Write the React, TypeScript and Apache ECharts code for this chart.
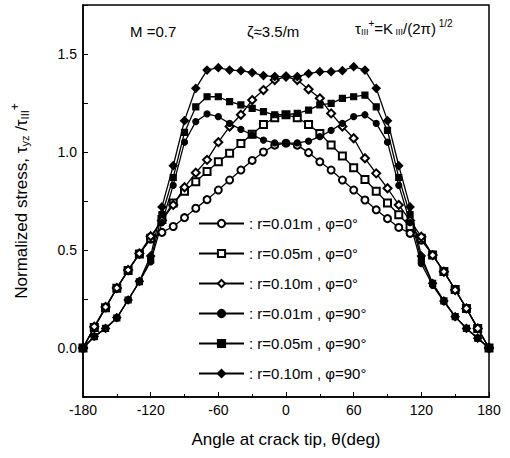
import React, { useEffect, useRef } from "react";
import * as echarts from "echarts";

const thetas = [
  -180, -170, -160, -150, -140, -130, -120, -110, -100, -90, -80, -70, -60, -50, -40, -30, -20, -10, 0,
  10, 20, 30, 40, 50, 60, 70, 80, 90, 100, 110, 120, 130, 140, 150, 160, 170, 180,
];

const openCircle = [
  0, 0.105, 0.205, 0.305, 0.395, 0.48, 0.555, 0.59, 0.62, 0.665, 0.713, 0.757, 0.806, 0.857, 0.908, 0.957, 1.0, 1.035, 1.045,
  1.035, 0.997, 0.95, 0.908, 0.857, 0.806, 0.755, 0.705, 0.66, 0.615, 0.585, 0.55, 0.475, 0.39, 0.298, 0.202, 0.1, 0,
];
const openSquare = [
  0, 0.105, 0.205, 0.305, 0.395, 0.48, 0.56, 0.655, 0.74, 0.8, 0.848, 0.9, 0.95, 0.993, 1.044, 1.09, 1.14, 1.175, 1.19,
  1.175, 1.14, 1.095, 1.036, 0.98, 0.92, 0.86, 0.8, 0.74, 0.68, 0.62, 0.56, 0.475, 0.39, 0.298, 0.202, 0.1, 0,
];
const openDiamond = [
  0, 0.109, 0.209, 0.306, 0.398, 0.482, 0.57, 0.65, 0.73, 0.82, 0.894, 0.96, 1.05, 1.13, 1.19, 1.265, 1.316, 1.367, 1.385,
  1.367, 1.32, 1.274, 1.197, 1.13, 1.07, 0.968, 0.891, 0.815, 0.73, 0.65, 0.568, 0.474, 0.389, 0.296, 0.202, 0.1, 0,
];
const filledCircle = [
  0, 0.058, 0.1, 0.153, 0.245, 0.338, 0.44, 0.64, 0.83, 1.05, 1.155, 1.194, 1.18, 1.146, 1.115, 1.087, 1.061, 1.047, 1.044,
  1.047, 1.055, 1.078, 1.11, 1.146, 1.18, 1.19, 1.146, 1.05, 0.83, 0.64, 0.43, 0.32, 0.236, 0.16, 0.1, 0.05, 0,
];
const filledSquare = [
  0, 0.058, 0.1, 0.153, 0.245, 0.338, 0.45, 0.68, 0.87, 1.1, 1.23, 1.282, 1.282, 1.257, 1.24, 1.223, 1.206, 1.19, 1.19,
  1.197, 1.214, 1.24, 1.248, 1.274, 1.282, 1.29, 1.23, 1.11, 0.87, 0.68, 0.45, 0.33, 0.24, 0.16, 0.1, 0.05, 0,
];
const filledDiamond = [
  0, 0.06, 0.1, 0.155, 0.245, 0.34, 0.47, 0.72, 0.93, 1.16, 1.325, 1.418, 1.43, 1.418, 1.415, 1.405, 1.39, 1.385, 1.385,
  1.385, 1.4, 1.41, 1.41, 1.415, 1.435, 1.418, 1.325, 1.16, 0.93, 0.72, 0.47, 0.33, 0.24, 0.16, 0.1, 0.05, 0,
];

const seriesNames = [
  ": r=0.01m , φ=0°",
  ": r=0.05m , φ=0°",
  ": r=0.10m , φ=0°",
  ": r=0.01m , φ=90°",
  ": r=0.05m , φ=90°",
  ": r=0.10m , φ=90°",
];
const seriesSymbols = ["emptyCircle", "emptyRect", "emptyDiamond", "circle", "rect", "diamond"];
const seriesValues = [openCircle, openSquare, openDiamond, filledCircle, filledSquare, filledDiamond];
const symbolSizes = [7, 7, 8, 6, 6, 8];

const FONT = "'Liberation Sans', Arial, sans-serif";

export default function App() {
  const ref = useRef<HTMLDivElement>(null);
  useEffect(() => {
    document.body.style.margin = "0";
    if (!ref.current) return;
    const chart = echarts.init(ref.current, null, { renderer: "svg" });
    const series = seriesNames.map((name, i) => ({
      name,
      type: "line",
      data: thetas.map((t, j) => [t, seriesValues[i][j]]),
      symbol: seriesSymbols[i],
      symbolSize: symbolSizes[i],
      showSymbol: true,
      lineStyle: { color: "#000", width: 1.3 },
      itemStyle: { color: "#000", borderColor: "#000", borderWidth: 1.2 },
      emphasis: { disabled: true },
    }));
    chart.setOption({
      animation: false,
      backgroundColor: "#fff",
      textStyle: { fontFamily: FONT },
      grid: { left: 83, right: 21, top: 5, bottom: 61, show: true, borderColor: "#000", borderWidth: 1.5 },
      xAxis: {
        type: "value",
        min: -180,
        max: 180,
        interval: 60,
        name: "Angle at crack tip, θ(deg)",
        nameLocation: "middle",
        nameGap: 34,
        nameTextStyle: { fontSize: 17, color: "#000", fontFamily: FONT },
        axisLine: { show: true, onZero: false, lineStyle: { color: "#000", width: 1.5 } },
        axisTick: { show: true, inside: true, length: 5, lineStyle: { color: "#000" } },
        minorTick: { show: true, splitNumber: 2, length: 3, lineStyle: { color: "#000" } },
        splitLine: { show: false },
        axisLabel: { fontSize: 14, color: "#000", margin: 6, fontFamily: FONT },
      },
      yAxis: {
        type: "value",
        min: -0.25,
        max: 1.75,
        interval: 0.25,
        name: "Normalized stress, τ{sub|yz} /τ{sub|III}{sup|+}",
        nameLocation: "middle",
        nameGap: 50,
        nameRotate: 90,
        nameTextStyle: {
          fontSize: 17,
          color: "#000",
          fontFamily: FONT,
          rich: {
            sub: { fontSize: 11, padding: [7, 0, 0, 0], color: "#000", fontFamily: FONT },
            sup: { fontSize: 12, padding: [0, 0, 12, 0], color: "#000", fontFamily: FONT },
          },
        },
        axisLine: { show: true, onZero: false, lineStyle: { color: "#000", width: 1.5 } },
        axisTick: { show: true, inside: true, length: 5, lineStyle: { color: "#000" } },
        splitLine: { show: false },
        axisLabel: {
          fontSize: 14,
          color: "#000",
          margin: 6,
          fontFamily: FONT,
          formatter: (v: number) => {
            const d = v * 2;
            if (v >= 0 && v <= 1.5 && Math.abs(d - Math.round(d)) < 1e-6) return v.toFixed(1);
            return "";
          },
        },
      },
      legend: {
        orient: "vertical",
        left: 193,
        top: 211,
        itemWidth: 45,
        itemHeight: 9,
        itemGap: 15,
        selectedMode: false,
        data: seriesNames,
        textStyle: { fontSize: 15, color: "#000", fontFamily: FONT },
      },
      graphic: [
        {
          type: "text",
          left: 130,
          top: 24,
          style: { text: "M =0.7", font: `15px ${FONT}`, fill: "#000" },
        },
        {
          type: "text",
          left: 247,
          top: 24,
          style: { text: "ζ≈3.5/m", font: `15px ${FONT}`, fill: "#000" },
        },
        {
          type: "text",
          left: 355,
          top: 18,
          style: {
            text: "τ{sub|III}{sup|+}=K{sub| III}/(2π){sup| 1/2}",
            font: `15px ${FONT}`,
            fill: "#000",
            rich: {
              sub: { fontSize: 9, padding: [7, 0, 0, 0], fill: "#000", fontFamily: FONT },
              sup: { fontSize: 10, padding: [0, 0, 10, 0], fill: "#000", fontFamily: FONT },
            },
          },
        },
      ],
      series,
    });
    return () => chart.dispose();
  }, []);
  return <div ref={ref} style={{ width: 510, height: 458 }} />;
}
